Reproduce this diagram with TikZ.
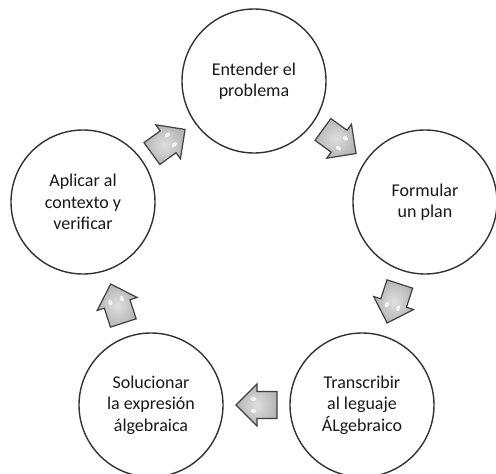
\documentclass[tikz,border=0pt]{standalone}
\usepackage{fontspec}
\setmainfont{Carlito}
\usetikzlibrary{calc}
\tikzset{
  stage/.style={circle, draw=black!80, line width=1.4pt, minimum size=144pt,
    inner sep=0pt, align=center, text=black!90,
    font=\fontsize{18}{21.5}\selectfont},
  pics/blockarrow/.style={code={
    \path[draw=black!75, line width=1.2pt, line join=miter,
          inner color=gray!25, outer color=gray!58]
      (20.5,-13.5) -- (0.5,-13.5) -- (0.5,-21) -- (-20.5,0)
      -- (0.5,21) -- (0.5,13.5) -- (20.5,13.5) -- cycle;
    \fill[white, opacity=0.75] (-3,-6) ellipse (3pt and 2pt);
    \fill[white, opacity=0.75] (-3,6) ellipse (3pt and 2pt);
  }}
}
\begin{document}
\begin{tikzpicture}[x=1pt, y=-1pt]
  \fill[white] (0,0) rectangle (496,474);
  \useasboundingbox (0,0) rectangle (496,474);

  \node[stage] (T)  at (254,81)  {Entender el\\problema};
  \node[stage] (R)  at (425,202) {Formular\\un plan};
  \node[stage] (BR) at (362,405) {Transcribir\\al leguaje\\ÁLgebraico};
  \node[stage] (BL) at (151,405) {Solucionar\\la expresión\\álgebraica};
  \node[stage] (L)  at (83,202)  {Aplicar al\\contexto y\\verificar};

  % block arrows halfway between consecutive stages (tip drawn along -x)
  \pic[rotate=216] at ($(L)!0.5!(T)$)   {blockarrow};
  \pic[rotate=144] at ($(T)!0.5!(R)$)   {blockarrow};
  \pic[rotate=72]  at ($(R)!0.5!(BR)$)  {blockarrow};
  \pic[rotate=0]   at ($(BR)!0.5!(BL)$) {blockarrow};
  \pic[rotate=-72] at ($(BL)!0.5!(L)$)  {blockarrow};
\end{tikzpicture}
\end{document}
